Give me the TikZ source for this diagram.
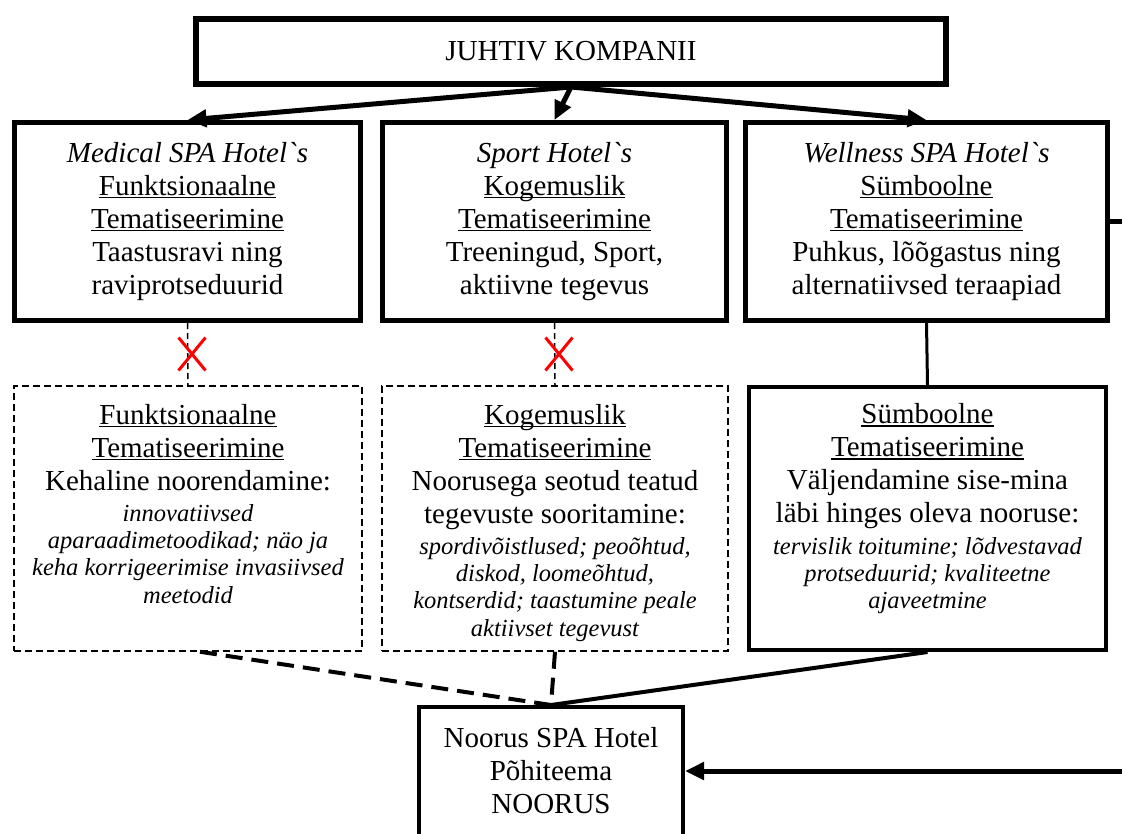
\documentclass[tikz,border=0pt]{standalone}
\usepackage{fontspec}
\setmainfont{Liberation Serif}[Ligatures=TeXOff]
\usetikzlibrary{arrows.meta,shapes.misc}
\newsavebox{\ulbox}
\newcommand{\ulw}[1]{\leavevmode\sbox\ulbox{#1}\rlap{\rule[-3pt]{\wd\ulbox}{1.4pt}}\usebox\ulbox}
\newcommand{\mainsize}{\fontsize{29}{33}\selectfont}
\newcommand{\smallit}{\fontsize{24.5}{27.3}\selectfont\itshape}

\begin{document}
\begin{tikzpicture}[x=1pt,y=-1pt,every node/.style={font=\mainsize,align=center,inner sep=0pt},
  hotel/.style={draw,line width=5pt,minimum height=198},
  thinbox/.style={draw,line width=1.5pt,dash pattern=on 7pt off 4pt,minimum height=265},
  themetext/.style={anchor=north,text width=340,align=flush center},
  arrow/.style={line width=5pt,-{Triangle[length=19pt,width=17pt]}},
  cut/.style={line width=1.5pt,dash pattern=on 6pt off 4pt},
  weak/.style={line width=4pt,dash pattern=on 17pt off 9pt},
  nomark/.style={cross out,draw=red,line width=3pt,minimum width=24,minimum height=30}]
                \useasboundingbox (0,0) rectangle (1122,833);
                \clip (0,0) rectangle (1122,833);
                \node[draw,line width=6pt,minimum width=750,minimum height=65] (juhtiv) at (571,51.5) {JUHTIV KOMPANII};
                \node[hotel,minimum width=346] (medical) at (187.5,221.5) {\textit{Medical SPA Hotel`s}\\\ulw{Funktsionaalne}\\\ulw{Tematiseerimine}\\Taastusravi ning\\raviprotseduurid};
                \node[hotel,minimum width=344] (sport) at (554.5,221.5) {\textit{Sport Hotel`s}\\\ulw{Kogemuslik}\\\ulw{Tematiseerimine}\\Treeningud, Sport,\\aktiivne tegevus};
                \node[hotel,minimum width=362] (wellness) at (926.5,221.5) {\textit{Wellness SPA Hotel`s}\\\ulw{Sümboolne}\\\ulw{Tematiseerimine}\\Puhkus, lõõgastus ning\\alternatiivsed teraapiad};
                \node[thinbox,minimum width=348] (funkt) at (188,518.5) {};
                \node[thinbox,minimum width=346] (kogem) at (555,518.5) {};
                \node[draw,line width=4pt,minimum width=357,minimum height=263] (symb) at (927.5,518.5) {};
                \node[themetext] (funkttxt) at ([yshift=-15.5pt]funkt.north) {\strut\ulw{Funktsionaalne}\\\ulw{Tematiseerimine}\\Kehaline noorendamine:\par\vspace{4pt}
                  {\smallit innovatiivsed\\aparaadimetoodikad; näo ja\\keha korrigeerimise invasiivsed\\meetodid\par}};
                \node[themetext] (kogemtxt) at ([yshift=-15.5pt]kogem.north) {\strut\ulw{Kogemuslik}\\\ulw{Tematiseerimine}\\Noorusega seotud teatud\\tegevuste sooritamine:\par\vspace{4pt}
                  {\smallit spordivõistlused; peoõhtud,\\diskod, loomeõhtud,\\kontserdid; taastumine peale\\aktiivset tegevust\par}};
                \node[themetext] (symbtxt) at ([yshift=-15.5pt]symb.north) {\strut\ulw{Sümboolne}\\\ulw{Tematiseerimine}\\Väljendamine sise-mina\\läbi hinges oleva nooruse:\par\vspace{4pt}
                  {\smallit tervislik toitumine; lõdvestavad\\protseduurid; kvaliteetne\\ajaveetmine\par}};
                \node[draw,line width=4pt,minimum width=264,minimum height=200,anchor=north] (noorus) at (551,705) {};
                \node (noorustxt) at (551,771) {Noorus SPA Hotel\\Põhiteema\\NOORUS};
                \draw[arrow] (juhtiv.south) -- (medical.north);
                \draw[arrow] (juhtiv.south) -- (sport.north);
                \draw[arrow] (juhtiv.south) -- (wellness.north);
                \draw[cut] (medical.south) -- (funkt.north);
                \draw[cut] (sport.south) -- (kogem.north);
                \node[nomark] (nofunkt) at (192,354) {};
                \node[nomark] (nokogem) at (559,354) {};
                \draw[line width=3pt] (wellness.south) -- (symb.north);
                \draw[weak] ([xshift=12pt]funkt.south) -- (noorus.north);
                \draw[weak] (kogem.south) -- (noorus.north);
                \draw[line width=4pt] (symb.south) -- (noorus.north);
                \draw[arrow] (wellness.east) -- ++(40,0) |- (noorus.east |- noorustxt);
            \end{tikzpicture}
\end{document}
